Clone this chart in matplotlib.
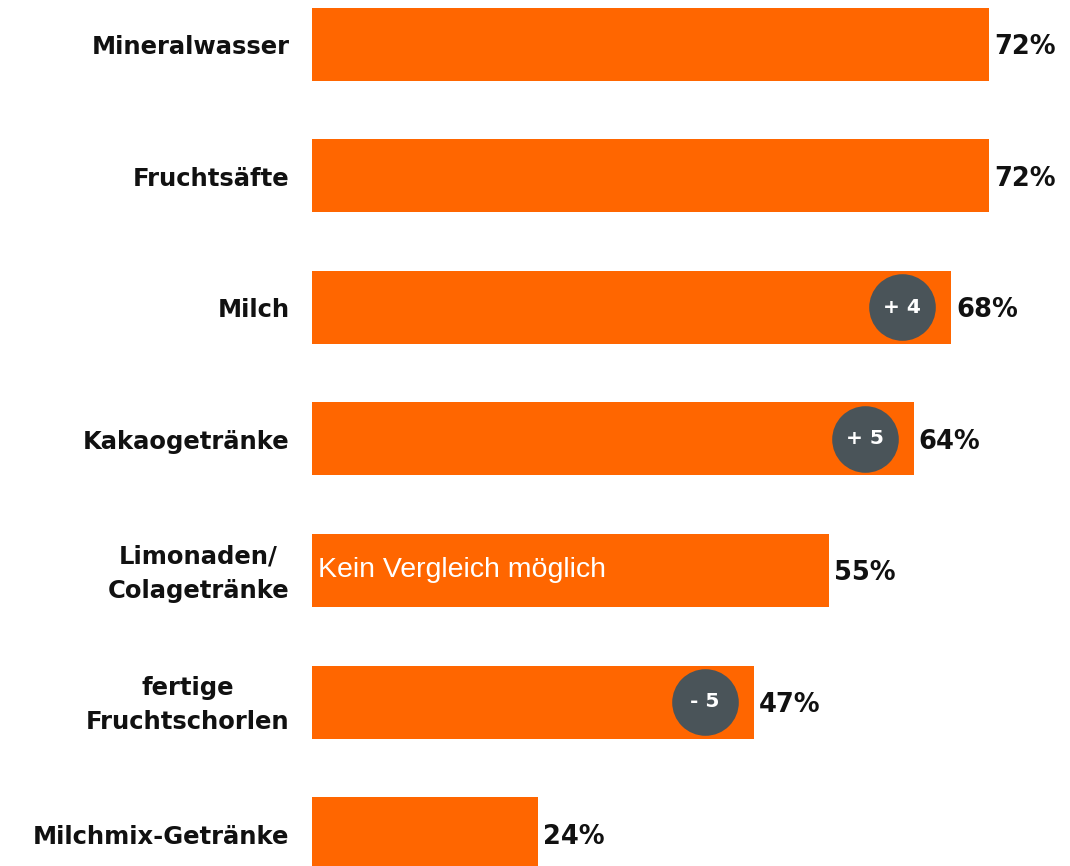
import numpy as np
import matplotlib.pyplot as plt

plt.rcParams['font.family'] = ['DejaVu Sans']

categories = ['Mineralwasser', 'Fruchtsäfte', 'Milch', 'Kakaogetränke',
              'Limonaden/\nColagetränke', 'fertige\nFruchtschorlen', 'Milchmix-Getränke']
values = [72, 72, 68, 64, 55, 47, 24]
changes = ['', '', '+ 4', '+ 5', '', '- 5', '']
notes = ['', '', '', '', 'Kein Vergleich möglich', '', '']

orange = '#ff6600'
grey = '#4a5459'

W, H = 1070, 866
fig = plt.figure(figsize=(W / 100, H / 100), dpi=100)
ax = fig.add_axes([312 / W, 0, 1 - 312 / W, 1])

pitch = 131.6
y = np.arange(len(values))
ax.barh(y, values, height=73 / pitch, color=orange)
ax.set_xlim(0, (W - 312) / 9.40)
ax.set_ylim((H - 44) / pitch, -44 / pitch)
ax.axis('off')

dy = 3 / pitch
for i, v in enumerate(values):
    ax.text(v + 0.55, i + dy, f'{v}%', va='center', ha='left', fontsize=18.5,
            fontweight='bold', color='#111111')
    ax.text(-2.4, i + dy, categories[i], va='center', ha='right', multialignment='center',
            fontsize=17.5, fontweight='bold', color='#111111', linespacing=1.55)
    if changes[i]:
        ax.scatter(v - 5.2, i, s=2300, color=grey, zorder=3, linewidths=0)
        ax.text(v - 5.2, i, changes[i], va='center', ha='center', fontsize=14.5,
                fontweight='bold', color='white', zorder=4)
    if notes[i]:
        ax.text(0.6, i, notes[i], va='center', ha='left', fontsize=20.5,
                color='white', family='Liberation Sans')

for t in ax.texts:
    t.set_clip_on(False)

fig.savefig('out.png', dpi=100)
